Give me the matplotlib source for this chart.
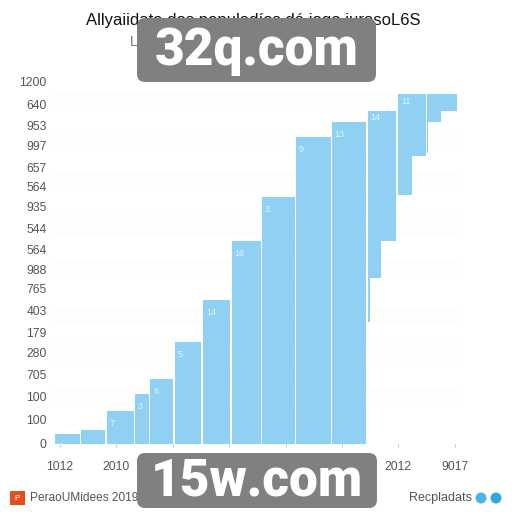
import matplotlib
matplotlib.use("Agg")
import matplotlib.pyplot as plt
from matplotlib.patches import FancyBboxPatch, Rectangle, Circle

plt.rcParams['font.family'] = ['Liberation Sans', 'DejaVu Sans']

title = "Allyaiidate dos populadíos dá jogo jurasoL6S"
subtitle = "L"
legend_left = "PeraoUMidees 2019"
legend_right = "Recpladats"

y_tick_values = [0, 80, 156, 229, 302, 371, 444, 514, 580, 646, 716, 786, 852, 918, 988, 1057, 1127, 1200]
y_tick_labels = ["0", "100", "100", "705", "280", "179", "403", "765", "988", "564", "544", "935", "564", "657", "997", "953", "640", "1200"]
x_tick_values = [0, 1, 2, 3, 4, 5, 6, 7]
x_tick_labels = ["1012", "2010", "", "", "", "", "2012", "9017"]

bin_left = [-0.09, 0.37, 0.83, 1.33, 1.60, 2.04, 2.54, 3.05, 3.58, 4.18, 4.82]
bin_right = [0.35, 0.80, 1.31, 1.58, 2.00, 2.50, 3.01, 3.56, 4.17, 4.80, 5.43]
bin_height = [33, 46, 109, 166, 215, 338, 477, 673, 819, 1018, 1067]
bin_text = ["4", "", "7", "3", "6", "5", "14", "16", "3", "9", "13"]

step_left = [5.46, 5.50, 5.69, 6.00, 6.24, 6.51, 6.52, 6.76]
step_right = [5.50, 5.69, 5.96, 6.24, 6.49, 6.52, 6.76, 7.04]
step_top = [1104, 1104, 1104, 1160, 1160, 1160, 1160, 1160]
step_bottom = [404, 550, 673, 825, 954, 965, 1067, 1104]
step_text = [(5.46, 1104, "14"), (6.0, 1160, "11")]

band_low = [125, 260, 400, 545, 690, 835, 975, 1120]
band_high = [185, 335, 450, 610, 760, 900, 1040, 1165]

BLUE = "#90D1F3"
GREY = "#555555"

fig = plt.figure(figsize=(5.12, 5.12), dpi=100, facecolor="white")
ax = fig.add_axes([55 / 512, 1 - 444 / 512, (457 - 55) / 512, (444 - 82) / 512])
ax.set_xlim(-0.09, 7.04)
ax.set_ylim(0, 1200)

for lo, hi in zip(band_low, band_high):
    ax.axhspan(lo, hi, color="#FDFDFB", lw=0, zorder=0)

ax.bar(bin_left, bin_height, width=[r - l for l, r in zip(bin_left, bin_right)],
       align="edge", color=BLUE, lw=0, zorder=2)
ax.bar(step_left, [t - b for t, b in zip(step_top, step_bottom)],
       width=[r - l for l, r in zip(step_left, step_right)], bottom=step_bottom,
       align="edge", color=BLUE, lw=0, zorder=2)

for l, h, s in zip(bin_left, bin_height, bin_text):
    if s:
        ax.annotate(s, (l, h), xytext=(2, -9), textcoords="offset points", color="#E4F5FD",
                    fontsize=6.5, va="center", ha="left", zorder=3)
for l, h, s in step_text:
    ax.annotate(s, (l, h), xytext=(2, -5), textcoords="offset points", color="#E4F5FD",
                fontsize=6.5, va="center", ha="left", zorder=3)

for s in ax.spines.values():
    s.set_visible(False)
ax.set_yticks(y_tick_values)
ax.set_yticklabels(y_tick_labels)
ax.set_xticks(x_tick_values)
ax.set_xticklabels(x_tick_labels)
ax.tick_params(axis="y", length=0, pad=6, labelsize=8.7, labelcolor=GREY)
ax.tick_params(axis="x", length=2, width=0.6, color="#BBBBBB", pad=10, labelsize=8.7, labelcolor=GREY)

fig.text(253.5 / 512, 1 - 21 / 512, title, ha="center", va="center", fontsize=12, color="#111111")
fig.text(130 / 512, 1 - 42 / 512, subtitle, ha="left", va="center", fontsize=10, color="#777777")

fig.add_artist(Rectangle((10 / 512, 1 - 505 / 512), 15 / 512, 14 / 512, transform=fig.transFigure,
                         color="#E2501F", lw=0))
fig.text(17.5 / 512, 1 - 498 / 512, "P", ha="center", va="center", fontsize=6, color="white")
fig.text(30 / 512, 1 - 498 / 512, legend_left, ha="left", va="center", fontsize=8.6, color=GREY)
fig.text(409 / 512, 1 - 498 / 512, legend_right, ha="left", va="center", fontsize=9, color=GREY)
for cx, c in [(481, "#4FB3E8"), (496, "#2FA6DF")]:
    fig.add_artist(Circle((cx / 512, 1 - 498 / 512), 5.5 / 512, transform=fig.transFigure, color=c, lw=0))

for x0, x1, y0, y1, s in [(137, 376, 18, 82, "32q.com"), (137, 377, 453, 508, "15w.com")]:
    fig.add_artist(FancyBboxPatch((x0 / 512, 1 - y1 / 512), (x1 - x0) / 512, (y1 - y0) / 512,
                                  boxstyle="round,pad=0,rounding_size=0.016", transform=fig.transFigure,
                                  facecolor="#808080", edgecolor="none", zorder=10))
    fig.text((x0 + x1) / 2 / 512, 1 - ((y0 + y1) / 2 + 1) / 512, s, ha="center", va="center",
             fontsize=37, fontweight=900, family="Roboto", color="white", zorder=11)

fig.savefig("out.png", dpi=100)
